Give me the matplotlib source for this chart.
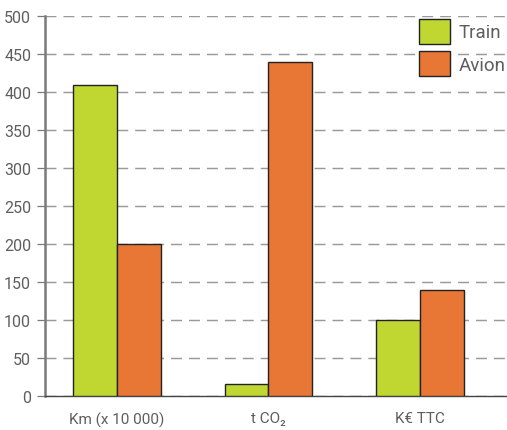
import matplotlib
matplotlib.use("Agg")
import matplotlib.pyplot as plt
import numpy as np

categories = ["Km (x 10 000)", "t CO₂", "K€ TTC"]
train = [409, 16, 100]
avion = [200, 440, 140]
yticks = [0, 50, 100, 150, 200, 250, 300, 350, 400, 450, 500]

plt.rcParams["font.family"] = ["Roboto", "DejaVu Sans"]

green = "#bfd730"
orange = "#e87735"
text_col = "#5e5e5e"

fig = plt.figure(figsize=(5.07, 4.31), dpi=100)
ax = fig.add_axes([45 / 507, 34 / 431, 1 - 45 / 507, (397 - 17) / 431])

x = np.arange(len(categories))
w = 0.29
ax.bar(x - w / 2, train, w, color=green, edgecolor="#222222", linewidth=1.0,
       label="Train", zorder=3)
ax.bar(x + w / 2, avion, w, color=orange, edgecolor="#222222", linewidth=1.0,
       label="Avion", zorder=3)

ax.set_ylim(0, 500)
ax.set_xlim(-0.475, 2.574)
ax.set_yticks(yticks)
ax.set_xticks(x)
ax.set_xticklabels(categories)

ax.yaxis.grid(True, linestyle=(0, (7.5, 4.8)), color="#9a9a9a", linewidth=1.05, zorder=0)
ax.set_axisbelow(True)

for s in ["top", "right"]:
    ax.spines[s].set_visible(False)
ax.spines["left"].set_color("#7a7a7a")
ax.spines["left"].set_linewidth(1.8)
ax.spines["bottom"].set_color("#444444")
ax.spines["bottom"].set_linewidth(1.0)

ax.tick_params(axis="y", length=6, width=0.9, color="#7a7a7a", labelsize=11.5,
               labelcolor=text_col, pad=4)
ax.tick_params(axis="x", length=0, labelsize=11, labelcolor=text_col, pad=11)

leg = ax.legend(loc="upper left", bbox_to_anchor=(419 / 507, 1 - 20 / 431),
                bbox_transform=fig.transFigure, frameon=False, fontsize=13.5,
                handlelength=1.65, handleheight=1.65, handletextpad=0.45,
                labelspacing=0.4, borderpad=0, borderaxespad=0)
for t in leg.get_texts():
    t.set_color(text_col)

fig.savefig("out.png", dpi=100)
